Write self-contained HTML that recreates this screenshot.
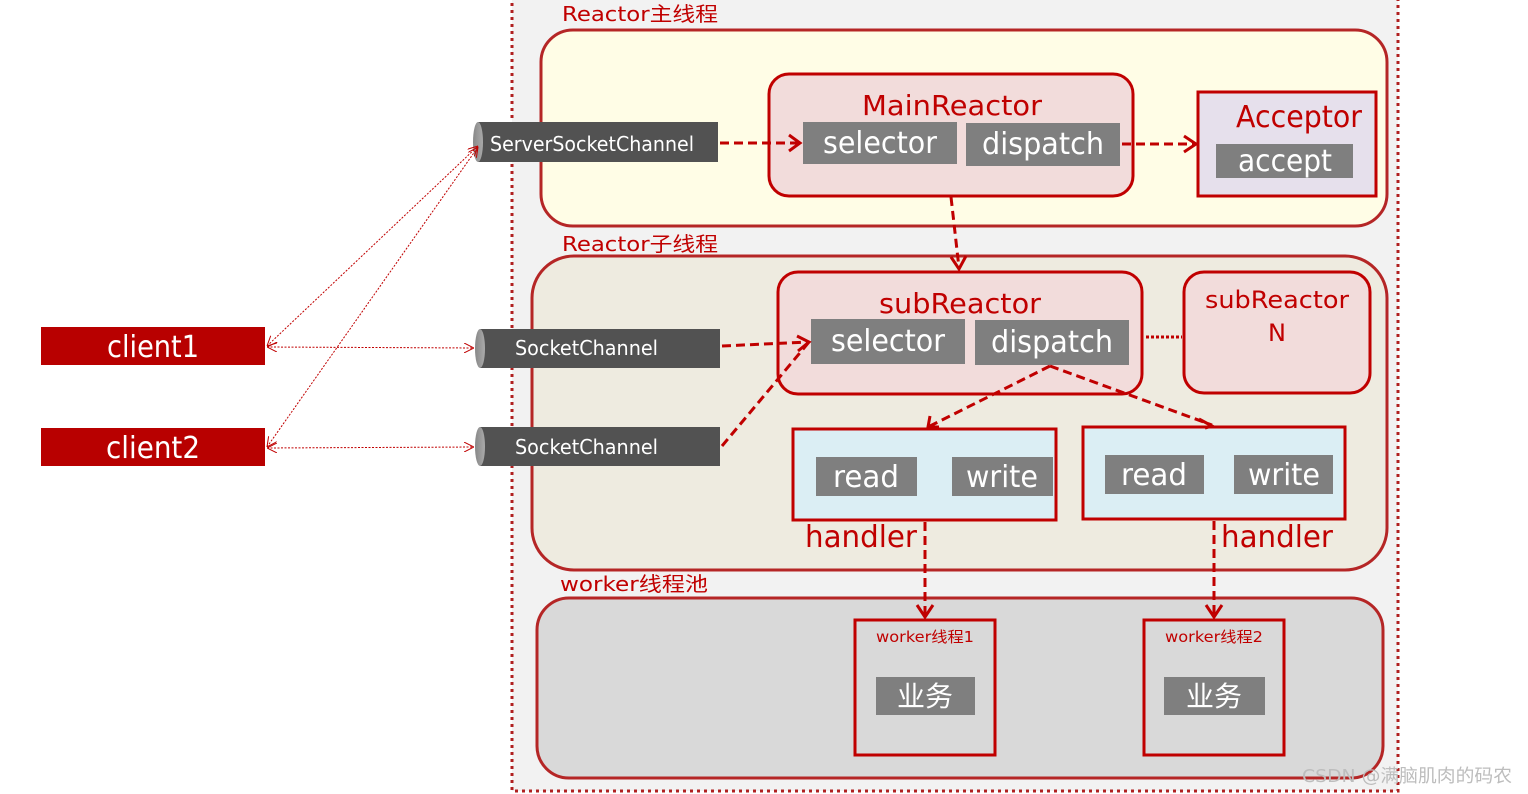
<!DOCTYPE html>
<html><head><meta charset="utf-8"><style>
html,body{margin:0;padding:0;background:#fff;}
svg{display:block;}
text{font-family:"DejaVu Sans","Noto Sans CJK SC",sans-serif;}
</style></head><body>
<svg width="1528" height="794" viewBox="0 0 1528 794" xmlns="http://www.w3.org/2000/svg">
<defs>
<marker id="ar" viewBox="0 0 10 10" refX="9" refY="5" markerWidth="5" markerHeight="5" orient="auto" markerUnits="userSpaceOnUse" style="overflow:visible">
<path d="M-4,-6 L10,5 L-4,16" fill="none" stroke="#c00000" stroke-width="3" transform="scale(0.8) translate(0,-0.5)"/>
</marker>
<marker id="as" viewBox="0 0 10 10" refX="10" refY="5" markerWidth="10" markerHeight="10" orient="auto-start-reverse" markerUnits="userSpaceOnUse">
<path d="M0,0 L10,5 L0,10" fill="none" stroke="#c00000" stroke-width="1"/>
</marker>
<linearGradient id="cy" x1="0" y1="0" x2="1" y2="0"><stop offset="0" stop-color="#888"/><stop offset="1" stop-color="#aaa"/></linearGradient>
</defs>
<!-- outer region -->
<rect x="512" y="-5" width="886" height="796" fill="#f2f2f2" stroke="#b02020" stroke-width="3" stroke-dasharray="3,4"/>

<text x="562" y="21" font-size="20" fill="#c00000" textLength="156" lengthAdjust="spacingAndGlyphs">Reactor主线程</text>
<rect x="541" y="30" width="846" height="196" rx="32" fill="#fffde6" stroke="#b52626" stroke-width="3"/>
<text x="562" y="251" font-size="20" fill="#c00000" textLength="156" lengthAdjust="spacingAndGlyphs">Reactor子线程</text>
<rect x="532" y="256" width="855" height="314" rx="42" fill="#eeebe0" stroke="#b52626" stroke-width="3"/>
<text x="560" y="591" font-size="20" fill="#c00000" textLength="148" lengthAdjust="spacingAndGlyphs">worker线程池</text>
<rect x="537" y="598" width="846" height="180" rx="32" fill="#d9d9d9" stroke="#b52626" stroke-width="3"/>

<!-- MainReactor -->
<rect x="769" y="74" width="364" height="122" rx="20" fill="#f2dcdb" stroke="#c00000" stroke-width="3"/>
<text x="952" y="115" font-size="28" fill="#c00000" text-anchor="middle" textLength="180" lengthAdjust="spacingAndGlyphs">MainReactor</text>
<rect x="803" y="122" width="154" height="42" fill="#7f7f7f"/>
<text x="880" y="153" font-size="30" fill="#fff" text-anchor="middle" textLength="114" lengthAdjust="spacingAndGlyphs">selector</text>
<rect x="966" y="123" width="154" height="43" fill="#7f7f7f"/>
<text x="1043" y="154" font-size="30" fill="#fff" text-anchor="middle" textLength="122" lengthAdjust="spacingAndGlyphs">dispatch</text>

<!-- Acceptor -->
<rect x="1198" y="92" width="178" height="104" fill="#e6e0ec" stroke="#c00000" stroke-width="3"/>
<text x="1299" y="127" font-size="30" fill="#c00000" text-anchor="middle" textLength="126" lengthAdjust="spacingAndGlyphs">Acceptor</text>
<rect x="1216" y="144" width="137" height="34" fill="#7f7f7f"/>
<text x="1285" y="171" font-size="30" fill="#fff" text-anchor="middle" textLength="94" lengthAdjust="spacingAndGlyphs">accept</text>

<!-- ServerSocketChannel -->
<rect x="478" y="122" width="240" height="40" fill="#525252"/>
<ellipse cx="478" cy="142" rx="5" ry="20" fill="url(#cy)"/>
<text x="490" y="151" font-size="20" fill="#fff" textLength="204" lengthAdjust="spacingAndGlyphs">ServerSocketChannel</text>

<!-- subReactor -->
<rect x="778" y="272" width="364" height="122" rx="20" fill="#f2dcdb" stroke="#c00000" stroke-width="3"/>
<text x="960" y="313" font-size="28" fill="#c00000" text-anchor="middle" textLength="162" lengthAdjust="spacingAndGlyphs">subReactor</text>
<rect x="811" y="319" width="154" height="45" fill="#7f7f7f"/>
<text x="888" y="351" font-size="30" fill="#fff" text-anchor="middle" textLength="114" lengthAdjust="spacingAndGlyphs">selector</text>
<rect x="975" y="320" width="154" height="45" fill="#7f7f7f"/>
<text x="1052" y="352" font-size="30" fill="#fff" text-anchor="middle" textLength="122" lengthAdjust="spacingAndGlyphs">dispatch</text>

<rect x="1184" y="272" width="186" height="121" rx="20" fill="#f2dcdb" stroke="#c00000" stroke-width="3"/>
<text x="1277" y="308" font-size="24" fill="#c00000" text-anchor="middle" textLength="144" lengthAdjust="spacingAndGlyphs">subReactor</text>
<text x="1277" y="341" font-size="24" fill="#c00000" text-anchor="middle">N</text>
<line x1="1146" y1="337" x2="1182" y2="337" stroke="#c00000" stroke-width="3" stroke-dasharray="3,2"/>

<!-- SocketChannels -->
<rect x="480" y="329" width="240" height="39" fill="#525252"/>
<ellipse cx="480" cy="348.5" rx="5" ry="19.5" fill="url(#cy)"/>
<text x="515" y="355" font-size="20" fill="#fff" textLength="143" lengthAdjust="spacingAndGlyphs">SocketChannel</text>
<rect x="480" y="427" width="240" height="39" fill="#525252"/>
<ellipse cx="480" cy="446.5" rx="5" ry="19.5" fill="url(#cy)"/>
<text x="515" y="454" font-size="20" fill="#fff" textLength="143" lengthAdjust="spacingAndGlyphs">SocketChannel</text>

<!-- handlers -->
<rect x="793" y="429" width="263" height="91" fill="#dbeef4" stroke="#c00000" stroke-width="3"/>
<rect x="816" y="457" width="101" height="39" fill="#7f7f7f"/>
<text x="866" y="487" font-size="30" fill="#fff" text-anchor="middle" textLength="66" lengthAdjust="spacingAndGlyphs">read</text>
<rect x="952" y="457" width="101" height="39" fill="#7f7f7f"/>
<text x="1002" y="487" font-size="30" fill="#fff" text-anchor="middle" textLength="72" lengthAdjust="spacingAndGlyphs">write</text>
<text x="805" y="547" font-size="30" fill="#c00000" textLength="112" lengthAdjust="spacingAndGlyphs">handler</text>

<rect x="1083" y="427" width="262" height="92" fill="#dbeef4" stroke="#c00000" stroke-width="3"/>
<rect x="1105" y="455" width="99" height="39" fill="#7f7f7f"/>
<text x="1154" y="485" font-size="30" fill="#fff" text-anchor="middle" textLength="66" lengthAdjust="spacingAndGlyphs">read</text>
<rect x="1234" y="455" width="99" height="39" fill="#7f7f7f"/>
<text x="1284" y="485" font-size="30" fill="#fff" text-anchor="middle" textLength="72" lengthAdjust="spacingAndGlyphs">write</text>
<text x="1221" y="547" font-size="30" fill="#c00000" textLength="112" lengthAdjust="spacingAndGlyphs">handler</text>

<!-- workers -->
<rect x="855" y="620" width="140" height="135" fill="#d9d9d9" stroke="#c00000" stroke-width="3"/>
<text x="925" y="642" font-size="15" fill="#c00000" text-anchor="middle" textLength="98" lengthAdjust="spacingAndGlyphs">worker线程1</text>
<rect x="876" y="677" width="99" height="38" fill="#7f7f7f"/>
<text x="925" y="706" font-size="28" fill="#fff" text-anchor="middle">业务</text>
<rect x="1144" y="620" width="140" height="135" fill="#d9d9d9" stroke="#c00000" stroke-width="3"/>
<text x="1214" y="642" font-size="15" fill="#c00000" text-anchor="middle" textLength="98" lengthAdjust="spacingAndGlyphs">worker线程2</text>
<rect x="1164" y="677" width="101" height="38" fill="#7f7f7f"/>
<text x="1214" y="706" font-size="28" fill="#fff" text-anchor="middle">业务</text>

<!-- thick dashed connectors -->
<g stroke="#c00000" stroke-width="3" fill="none" stroke-dasharray="9,5">
<line x1="720" y1="143" x2="800" y2="143"/>
<line x1="1122" y1="144" x2="1195" y2="144"/>
<line x1="951" y1="197" x2="959" y2="268"/>
<line x1="722" y1="346" x2="808" y2="342"/>
<line x1="722" y1="446" x2="809" y2="342"/>
<line x1="1050" y1="366" x2="930" y2="426"/>
<line x1="1050" y1="366" x2="1212" y2="425"/>
<line x1="925" y1="522" x2="925" y2="615"/>
<line x1="1214" y1="521" x2="1214" y2="615"/>
</g>
<g stroke="#c00000" stroke-width="3" fill="none">
<path d="M789,135 L800,143 L789,151"/>
<path d="M1184,136 L1196,144 L1184,152"/>
<path d="M951,257 L959,269 L966,256"/>
<path d="M797,336 L809,342 L798,351"/>
<path d="M930,416 L928,427 L939,427"/>
<path d="M1199,419 L1212,426 L1205,428"/>
<path d="M917,605 L925,617 L933,605"/>
<path d="M1206,605 L1214,617 L1222,605"/>
</g>

<!-- clients -->
<rect x="41" y="327" width="224" height="38" fill="#b80000"/>
<text x="153" y="357" font-size="30" fill="#fff" text-anchor="middle" textLength="92" lengthAdjust="spacingAndGlyphs">client1</text>
<rect x="41" y="428" width="224" height="38" fill="#b80000"/>
<text x="153" y="458" font-size="30" fill="#fff" text-anchor="middle" textLength="94" lengthAdjust="spacingAndGlyphs">client2</text>

<g stroke="#c00000" stroke-width="1" fill="none" stroke-dasharray="2,1.5">
<line x1="267" y1="346" x2="478" y2="146" marker-start="url(#as)" marker-end="url(#as)"/>
<line x1="267" y1="447" x2="478" y2="147" marker-start="url(#as)" marker-end="url(#as)"/>
<line x1="267" y1="347" x2="474" y2="348" marker-start="url(#as)" marker-end="url(#as)"/>
<line x1="267" y1="448" x2="474" y2="447" marker-start="url(#as)" marker-end="url(#as)"/>
</g>

<text x="1302" y="782" font-size="18" fill="#bdbdbd" textLength="210" lengthAdjust="spacingAndGlyphs">CSDN @满脑肌肉的码农</text>
</svg>
</body></html>
